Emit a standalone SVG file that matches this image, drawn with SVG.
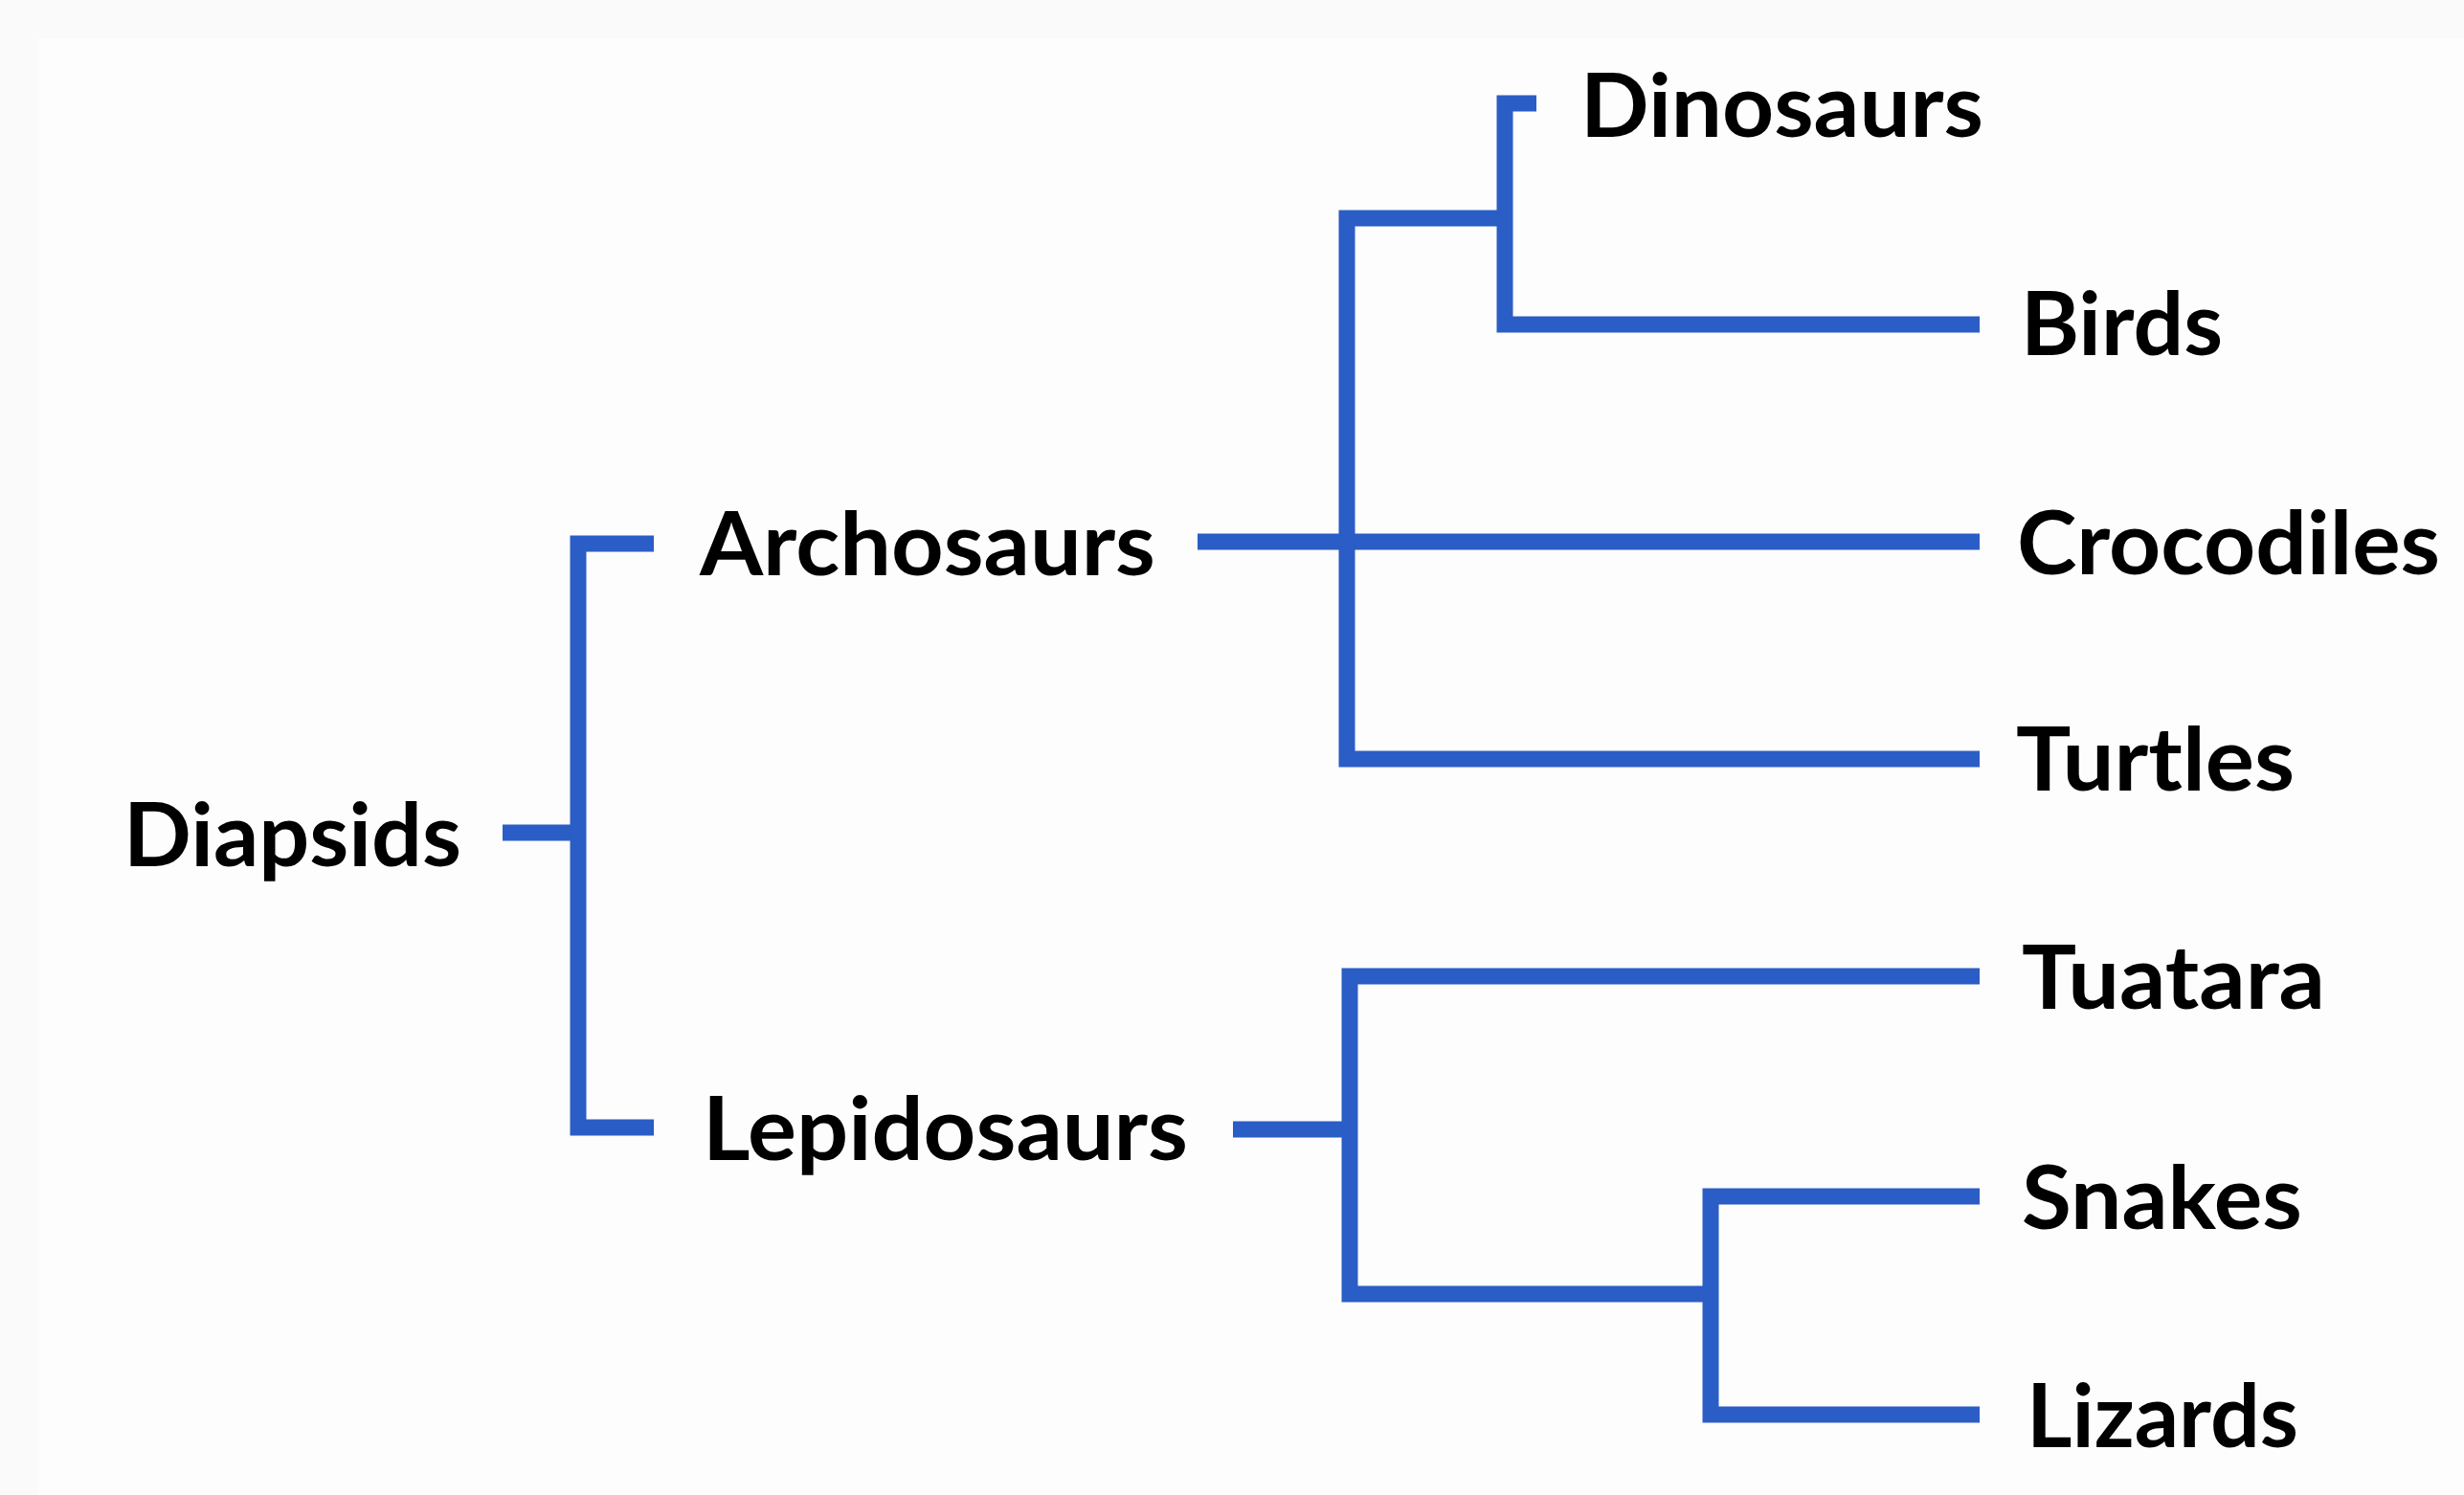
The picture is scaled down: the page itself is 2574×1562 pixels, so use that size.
<svg xmlns="http://www.w3.org/2000/svg" width="2574" height="1562" viewBox="0 0 2574 1562">
  <style>
    .lbl { font-family: Lato, "Open Sans", "Liberation Sans", sans-serif; font-weight: 700; font-size: 91px; fill: #000; }
    .edge { fill: none; stroke: #2B5DC6; stroke-width: 17; stroke-linejoin: miter; stroke-linecap: butt; }
  </style>
  <rect x="0" y="0" width="2574" height="1562" fill="#fafafa"/>
  <rect x="40" y="40" width="2534" height="1522" fill="#fdfdfd"/>
  <g id="connectors">
    <path class="edge" d="M525 870 H604"/>
    <path class="edge" d="M683 568 H604 V1178 H683"/>
    <path class="edge" d="M1251 566 H2068"/>
    <path class="edge" d="M1572 228 H1407 V793 H2068"/>
    <path class="edge" d="M1605 108 H1572 V339 H2068"/>
    <path class="edge" d="M1288 1180 H1410"/>
    <path class="edge" d="M2068 1020 H1410 V1352 H1787"/>
    <path class="edge" d="M2068 1250 H1787 V1478 H2068"/>
  </g>
  <g id="node-diapsids"><text class="lbl" x="129" y="905" textLength="353" lengthAdjust="spacingAndGlyphs">Diapsids</text></g>
  <g id="node-archosaurs"><text class="lbl" x="731" y="601" textLength="476" lengthAdjust="spacingAndGlyphs">Archosaurs</text></g>
  <g id="node-lepidosaurs"><text class="lbl" x="734" y="1212" textLength="507" lengthAdjust="spacingAndGlyphs">Lepidosaurs</text></g>
  <g id="node-dinosaurs"><text class="lbl" x="1651" y="143" textLength="421" lengthAdjust="spacingAndGlyphs">Dinosaurs</text></g>
  <g id="node-birds"><text class="lbl" x="2111" y="371" textLength="211" lengthAdjust="spacingAndGlyphs">Birds</text></g>
  <g id="node-crocodiles"><text class="lbl" x="2107" y="600" textLength="442" lengthAdjust="spacingAndGlyphs">Crocodiles</text></g>
  <g id="node-turtles"><text class="lbl" x="2106" y="826" textLength="291" lengthAdjust="spacingAndGlyphs">Turtles</text></g>
  <g id="node-tuatara"><text class="lbl" x="2112" y="1054" textLength="317" lengthAdjust="spacingAndGlyphs">Tuatara</text></g>
  <g id="node-snakes"><text class="lbl" x="2112" y="1284" textLength="293" lengthAdjust="spacingAndGlyphs">Snakes</text></g>
  <g id="node-lizards"><text class="lbl" x="2117" y="1512" textLength="284" lengthAdjust="spacingAndGlyphs">Lizards</text></g>
</svg>
